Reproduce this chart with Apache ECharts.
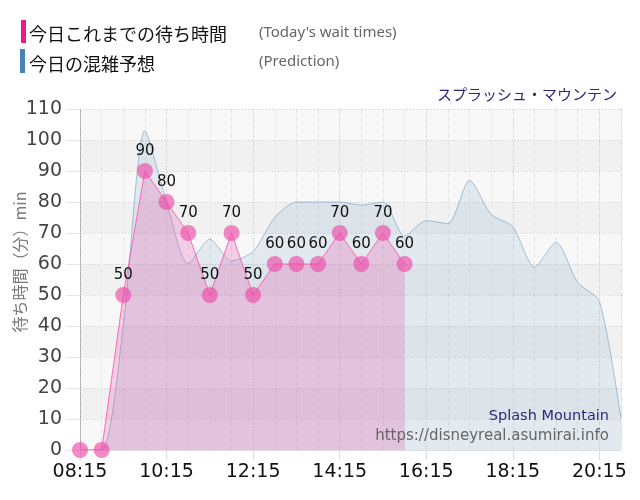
<!DOCTYPE html>
<html>
<head>
<meta charset="utf-8">
<script src="https://cdn.jsdelivr.net/npm/echarts@6/dist/echarts.min.js"></script>
<style>
  html, body { margin: 0; padding: 0; background: #fff; }
  #chart { width: 640px; height: 500px; }
</style>
</head>
<body>
<div id="chart"></div>
<script>
// today's actual wait times (30 min steps)
const actualTimes = ['08:15','08:45','09:15','09:45','10:15','10:45','11:15','11:45',
                     '12:15','12:45','13:15','13:45','14:15','14:45','15:15','15:45'];
const actualWait  = [0, 0, 50, 90, 80, 70, 50, 70, 50, 60, 60, 60, 70, 60, 70, 60];

// prediction for the whole day
const predTimes = ['08:15','08:45','09:15','09:45','10:15','10:45','11:15','11:45',
                   '12:15','12:45','13:15','13:45','14:15','14:45','15:15','15:45',
                   '16:15','16:45','17:15','17:45','18:15','18:45','19:15','19:45',
                   '20:15','20:45'];
const predWait  = [0, 0, 40, 103, 80, 60, 68, 61, 64, 75, 80, 80, 80, 79, 80, 69,
                   74, 73, 87, 76, 72, 59, 67, 54, 48, 10];

const START = '08:15';
const END = '20:45';

const toMin = t => { const [h, m] = t.split(':').map(Number); return h * 60 + m; };
const base = toMin(START);
const fmt = v => {
  const t = v + base;
  const h = Math.floor(t / 60), m = t % 60;
  return String(h).padStart(2, '0') + ':' + String(m).padStart(2, '0');
};

const actualData = actualTimes.map((t, i) => [toMin(t) - base, actualWait[i]]);
const predData = predTimes.map((t, i) => [toMin(t) - base, predWait[i]]);

const chart = echarts.init(document.getElementById('chart'));

const option = {
  animation: false,
  textStyle: { fontFamily: 'DejaVu Sans' },
  title: [
    {
      text: 'スプラッシュ・マウンテン',
      right: 18, top: 82,
      textStyle: { fontFamily: 'Noto Sans CJK JP', fontSize: 15, fontWeight: 'normal', color: '#2a2a78' }
    },
    {
      text: 'Splash Mountain',
      right: 26, top: 404,
      textStyle: { fontFamily: 'DejaVu Sans', fontSize: 14.5, fontWeight: 'normal', color: '#2a2a78' }
    },
    {
      text: 'https://disneyreal.asumirai.info',
      right: 26, top: 424,
      textStyle: { fontFamily: 'DejaVu Sans', fontSize: 15, fontWeight: 'normal', color: '#666' }
    }
  ],
  graphic: [
    { type: 'rect', left: 21, top: 20, shape: { width: 5, height: 23 }, style: { fill: '#f0168c' } },
    { type: 'text', x: 29, y: 34, style: { text: '今日これまでの待ち時間', font: '18px "Noto Sans CJK JP"', fill: '#111', verticalAlign: 'middle' } },
    { type: 'text', x: 259, y: 33, style: { text: "(Today's wait times)", font: '15px "Noto Sans"', fill: '#666', verticalAlign: 'middle' } },
    { type: 'rect', left: 20, top: 49, shape: { width: 5, height: 24 }, style: { fill: '#4682b4' } },
    { type: 'text', x: 29, y: 64, style: { text: '今日の混雑予想', font: '18px "Noto Sans CJK JP"', fill: '#111', verticalAlign: 'middle' } },
    { type: 'text', x: 259, y: 62, style: { text: '(Prediction)', font: '15px "Noto Sans"', fill: '#666', verticalAlign: 'middle' } },
    // y axis name
    { type: 'text', x: 20, y: 262, rotation: Math.PI / 2,
      style: { text: '待ち時間（分）min', font: '16px "Noto Sans CJK JP"', fill: '#777', align: 'center', verticalAlign: 'middle' } }
  ],
  grid: { left: 80, right: 19, top: 109, bottom: 50, containLabel: false, outerBoundsMode: 'none' },
  xAxis: [
    {
      type: 'value',
      min: 0, max: toMin(END) - base, interval: 120,
      axisLine: { show: true, lineStyle: { color: '#ddd' } },
      axisTick: { show: true, length: 10, lineStyle: { color: '#ddd' } },
      axisLabel: {
        formatter: fmt, showMaxLabel: false, margin: 13,
        fontSize: 19, color: '#111', fontFamily: 'DejaVu Sans'
      },
      splitLine: { show: true, lineStyle: { color: '#cfcfcf', type: [1, 2] } },
      z: 3
    },
    {
      type: 'value',
      position: 'bottom',
      min: 0, max: toMin(END) - base, interval: 30,
      axisLine: { show: false }, axisTick: { show: false }, axisLabel: { show: false },
      splitLine: { show: true, lineStyle: { color: '#e0e0e0', type: [4, 4] } }
    }
  ],
  yAxis: {
    type: 'value',
    min: 0, max: 110, interval: 10,
    axisLine: { show: true, lineStyle: { color: '#aaa' } },
    axisTick: { show: true, length: 14, lineStyle: { color: '#e4e4e4' } },
    axisLabel: { fontSize: 19, color: '#444', margin: 18, fontFamily: 'DejaVu Sans' },
    splitLine: { show: true, lineStyle: { color: '#cfcfcf', type: [1, 2] } },
    splitArea: { show: true, areaStyle: { color: ['#f8f8f8', '#f1f1f1'] } }
  },
  series: [
    {
      name: 'Prediction',
      type: 'line',
      data: predData,
      smooth: 0.25,
      showSymbol: false,
      lineStyle: { color: 'rgba(70,130,180,0.45)', width: 1 },
      areaStyle: { color: 'rgba(70,130,180,0.17)' },
      z: 2
    },
    {
      name: 'Actual',
      type: 'line',
      data: actualData,
      symbol: 'circle',
      symbolSize: 16,
      itemStyle: { color: 'rgba(236,76,168,0.65)' },
      lineStyle: { color: 'rgba(255,60,160,0.7)', width: 1 },
      areaStyle: { color: 'rgba(230,80,170,0.36)' },
      label: {
        show: true, position: 'top', distance: 4,
        fontSize: 15, color: '#111', fontFamily: 'DejaVu Sans',
        formatter: p => (p.value[1] === 0 ? '' : p.value[1])
      },
      z: 4
    }
  ]
};

chart.setOption(option);
</script>
</body>
</html>
